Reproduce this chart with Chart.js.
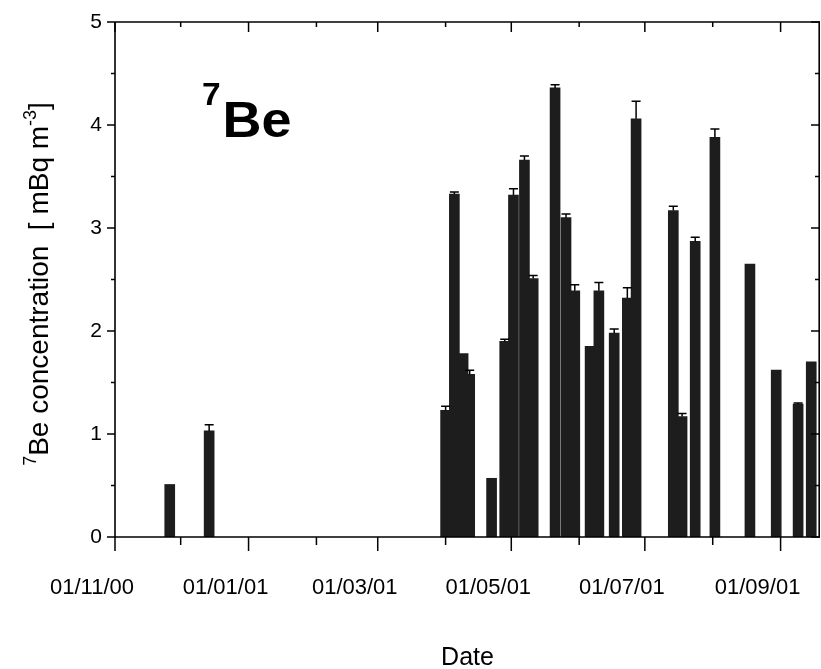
<!DOCTYPE html>
<html><head><meta charset="utf-8">
<script src="https://cdn.jsdelivr.net/npm/chart.js@4.4.1/dist/chart.umd.min.js"></script>
<style>html,body{margin:0;padding:0;background:#fff;}#wrap{width:821px;height:669px;}</style>
</head><body><div id="wrap"><canvas id="c" width="821" height="669"></canvas></div>
<script>
// ---- data ----
const sampleDates = ['2000-11-26','2000-12-14','2001-04-01','2001-04-05','2001-04-09','2001-04-12','2001-04-22','2001-04-28','2001-05-02','2001-05-07','2001-05-11','2001-05-21','2001-05-26','2001-05-30','2001-06-06','2001-06-10','2001-06-17','2001-06-23','2001-06-27','2001-07-14','2001-07-18','2001-07-24','2001-08-02','2001-08-18','2001-08-30','2001-09-09','2001-09-15'];
const be7Values = [0.51,1.03,1.23,3.33,1.78,1.58,0.57,1.90,3.32,3.66,2.51,4.36,3.10,2.39,1.85,2.39,1.98,2.32,4.06,3.17,1.17,2.87,3.88,2.65,1.62,1.29,1.70];
const be7Errors = [0,0.06,0.04,0.02,0,0.04,0,0.02,0.06,0.04,0.03,0.03,0.035,0.06,0,0.08,0.04,0.10,0.17,0.04,0.03,0.04,0.08,0,0,0.01,0];
const monthTickDates = ['2000-11-01','2000-12-01','2001-01-01','2001-02-01','2001-03-01','2001-04-01','2001-05-01','2001-06-01','2001-07-01','2001-08-01','2001-09-01'];
const monthTickLabels = ['01/11/00','','01/01/01','','01/03/01','','01/05/01','','01/07/01','','01/09/01'];
const axisEndDate = '2001-09-19';
const yTickValues = [0,1,2,3,4,5];

const ORIGIN = Date.UTC(2000,10,1);
const toDay = s => (Date.parse(s + 'T00:00:00Z') - ORIGIN) / 86400000;
const tickDays = monthTickDates.map(toDay);
const points = sampleDates.map((d,i) => ({x: toDay(d), y: be7Values[i]}));

const FONT = '"Liberation Sans", Arial, Helvetica, sans-serif';

const decor = {
  id: 'decor',
  afterDatasetsDraw(chart) {
    const ctx = chart.ctx, a = chart.chartArea;
    const xs = chart.scales.x, ys = chart.scales.y;
    ctx.save();
    ctx.strokeStyle = '#000';
    // error bars
    ctx.lineWidth = 1.5;
    points.forEach((p,i) => {
      const e = be7Errors[i];
      if (!e) return;
      const x = xs.getPixelForValue(p.x);
      const y0 = ys.getPixelForValue(p.y);
      const y1 = ys.getPixelForValue(p.y + e);
      ctx.beginPath();
      ctx.moveTo(x, y0); ctx.lineTo(x, y1);
      ctx.moveTo(x - 4.5, y1); ctx.lineTo(x + 4.5, y1);
      ctx.stroke();
    });
    // frame
    ctx.lineWidth = 1.6;
    ctx.beginPath();
    ctx.moveTo(a.left, a.top); ctx.lineTo(a.right, a.top);
    ctx.moveTo(a.left, a.bottom); ctx.lineTo(a.right, a.bottom);
    ctx.moveTo(a.left, a.top); ctx.lineTo(a.left, a.bottom + 1);
    ctx.moveTo(a.right - 0.8, a.top); ctx.lineTo(a.right - 0.8, a.bottom);
    ctx.stroke();
    // x ticks (bottom outward, top inward)
    ctx.lineWidth = 1.5;
    tickDays.forEach((d,i) => {
      const x = xs.getPixelForValue(d);
      const major = i % 2 === 0;
      ctx.beginPath();
      ctx.moveTo(x, a.bottom); ctx.lineTo(x, a.bottom + (major ? 14 : 8));
      ctx.moveTo(x, a.top); ctx.lineTo(x, a.top + (major ? 10 : 5));
      ctx.stroke();
    });
    // y ticks (left outward, right inward)
    for (let v = 0; v <= 5.001; v += 0.5) {
      const y = ys.getPixelForValue(v);
      const major = Math.abs(v - Math.round(v)) < 1e-6;
      ctx.beginPath();
      ctx.moveTo(a.left - (major ? 8 : 4), y); ctx.lineTo(a.left, y);
      ctx.moveTo(a.right, y); ctx.lineTo(a.right - (major ? 9 : 5), y);
      ctx.stroke();
    }
    ctx.fillStyle = '#000';
    // panel label 7Be
    ctx.textBaseline = 'alphabetic';
    ctx.textAlign = 'left';
    ctx.save();
    ctx.translate(202, 0);
    ctx.scale(1.08, 1);
    ctx.font = 'bold 31px ' + FONT;
    ctx.fillText('7', 0, 105);
    ctx.font = 'bold 50px ' + FONT;
    ctx.fillText('Be', 19, 137);
    ctx.restore();
    // x title
    ctx.font = '25px ' + FONT;
    ctx.textAlign = 'center';
    ctx.fillText('Date', (a.left + a.right) / 2, 665);
    // y title (rotated, with superscripts)
    const big = '28px ' + FONT, small = '18px ' + FONT;
    const parts = [
      {t: '7', f: small, dy: -12},
      {t: 'Be concentration  [ mBq m', f: big, dy: 0},
      {t: '-3', f: small, dy: -12},
      {t: ']', f: big, dy: 0}
    ];
    let total = 0;
    parts.forEach(p => { ctx.font = p.f; p.w = ctx.measureText(p.t).width; total += p.w; });
    ctx.translate(48, 284);
    ctx.rotate(-Math.PI / 2);
    ctx.textAlign = 'left';
    let cx = -total / 2;
    parts.forEach(p => { ctx.font = p.f; ctx.fillText(p.t, cx, p.dy); cx += p.w; });
    ctx.restore();
  }
};

new Chart(document.getElementById('c'), {
  type: 'bar',
  data: {
    datasets: [{
      data: points,
      backgroundColor: '#1d1d1d',
      borderWidth: 0,
      barThickness: 10
    }]
  },
  options: {
    responsive: false,
    devicePixelRatio: 1,
    animation: false,
    layout: {autoPadding: false, padding: {top: 22, right: 1, left: 0, bottom: 0}},
    plugins: {legend: {display: false}, tooltip: {enabled: false}},
    scales: {
      x: {
        type: 'linear',
        offset: false,
        min: 0,
        max: toDay(axisEndDate),
        grid: {display: false, drawTicks: false, offset: false},
        border: {display: false},
        afterBuildTicks: s => { s.ticks = tickDays.map(v => ({value: v})); },
        afterFit: s => { s.height = 132; s.paddingLeft = 0; s.paddingRight = 0; },
        ticks: {
          autoSkip: false,
          maxRotation: 0,
          padding: 38,
          labelOffset: -23,
          color: '#000',
          font: {family: FONT, size: 22},
          callback: (v, i) => monthTickLabels[i]
        }
      },
      y: {
        min: 0,
        max: 5,
        grid: {display: false, drawTicks: false},
        border: {display: false},
        afterBuildTicks: s => { s.ticks = yTickValues.map(v => ({value: v})); },
        afterFit: s => { s.width = 115; s.paddingTop = 0; s.paddingBottom = 0; },
        ticks: {
          padding: 13,
          color: '#000',
          font: {family: FONT, size: 21},
          callback: v => String(v)
        }
      }
    }
  },
  plugins: [decor]
});
</script></body></html>
